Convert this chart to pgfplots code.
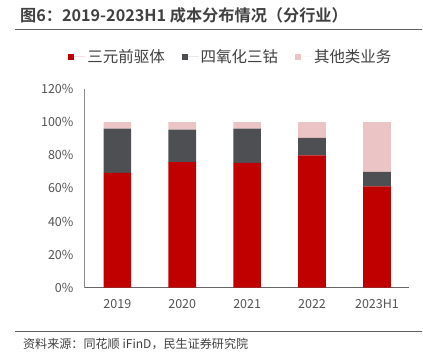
\documentclass[border=0pt]{standalone}
\usepackage{pgfplots}
\pgfplotsset{compat=1.18}
\usepackage{fontspec}
\setmainfont{Noto Sans CJK SC}
\newfontfamily\titlefont{Noto Sans CJK SC Bold}
\definecolor{cred}{HTML}{C00000}
\definecolor{cdark}{HTML}{4D4F52}
\definecolor{cpink}{HTML}{EBC5C5}
\definecolor{ctext}{HTML}{404040}
\begin{document}
\begin{tikzpicture}
\path (0bp,0bp) rectangle (423bp,-353bp);
\node[anchor=base west, font=\titlefont\fontsize{16.2bp}{18bp}\selectfont, text=ctext, inner sep=0pt] at (20bp,-21.5bp) {图6：2019-2023H1 成本分布情况（分行业）};
\draw[color=ctext!85, line width=1.2bp] (15bp,-29.5bp) -- (423bp,-29.5bp);
\draw[color=ctext!85, line width=1bp] (15bp,-332bp) -- (423bp,-332bp);
\node[anchor=base west, font=\fontsize{12.1bp}{13bp}\selectfont, text=ctext, inner sep=0pt] at (23bp,-348.5bp) {资料来源：同花顺 iFinD，民生证券研究院};
\begin{axis}[
  at={(85bp,-288bp)}, anchor=south west,
  scale only axis, width=325bp, height=198.7bp,
  ybar stacked, bar width=27.7bp,
  xmin=-0.5, xmax=4.5, ymin=0, ymax=120,
  xtick={0,1,2,3,4}, xticklabels={2019,2020,2021,2022,2023H1},
  ytick={0,20,40,60,80,100,120},
  yticklabel={\pgfmathprintnumber{\tick}\%},
  /pgf/number format/assume math mode=true,
  tick style={draw=none},
  axis x line*=bottom, axis y line*=left,
  x axis line style={draw=ctext!80, line width=1bp, -},
  y axis line style={draw=gray!90, line width=1bp, -},
  ticklabel style={font=\fontsize{12.5bp}{14bp}\selectfont, text=ctext!90},
  xticklabel style={yshift=-8bp},
  yticklabel style={xshift=-8bp},
  legend columns=3,
  legend style={at={(0.45,1.163)}, anchor=center, draw=none, fill=none,
    font=\fontsize{15.5bp}{17bp}\selectfont, text=ctext,
    /tikz/every even column/.append style={column sep=15bp}},
  legend image code/.code={\fill[#1] (0bp,-3bp) rectangle (6bp,3bp); \path (6bp,0bp) -- (17bp,0bp);},
]
\addplot[fill=cred, draw=none] coordinates {(0,69.4) (1,75.9) (2,75.5) (3,79.9) (4,61.2)};
\addplot[fill=cdark, draw=none] coordinates {(0,26.8) (1,19.7) (2,20.7) (3,10.6) (4,8.8)};
\addplot[fill=cpink, draw=none] coordinates {(0,3.8) (1,4.4) (2,3.8) (3,9.5) (4,30.0)};
\legend{三元前驱体,四氧化三钴,其他类业务}
\end{axis}
\end{tikzpicture}
\end{document}
